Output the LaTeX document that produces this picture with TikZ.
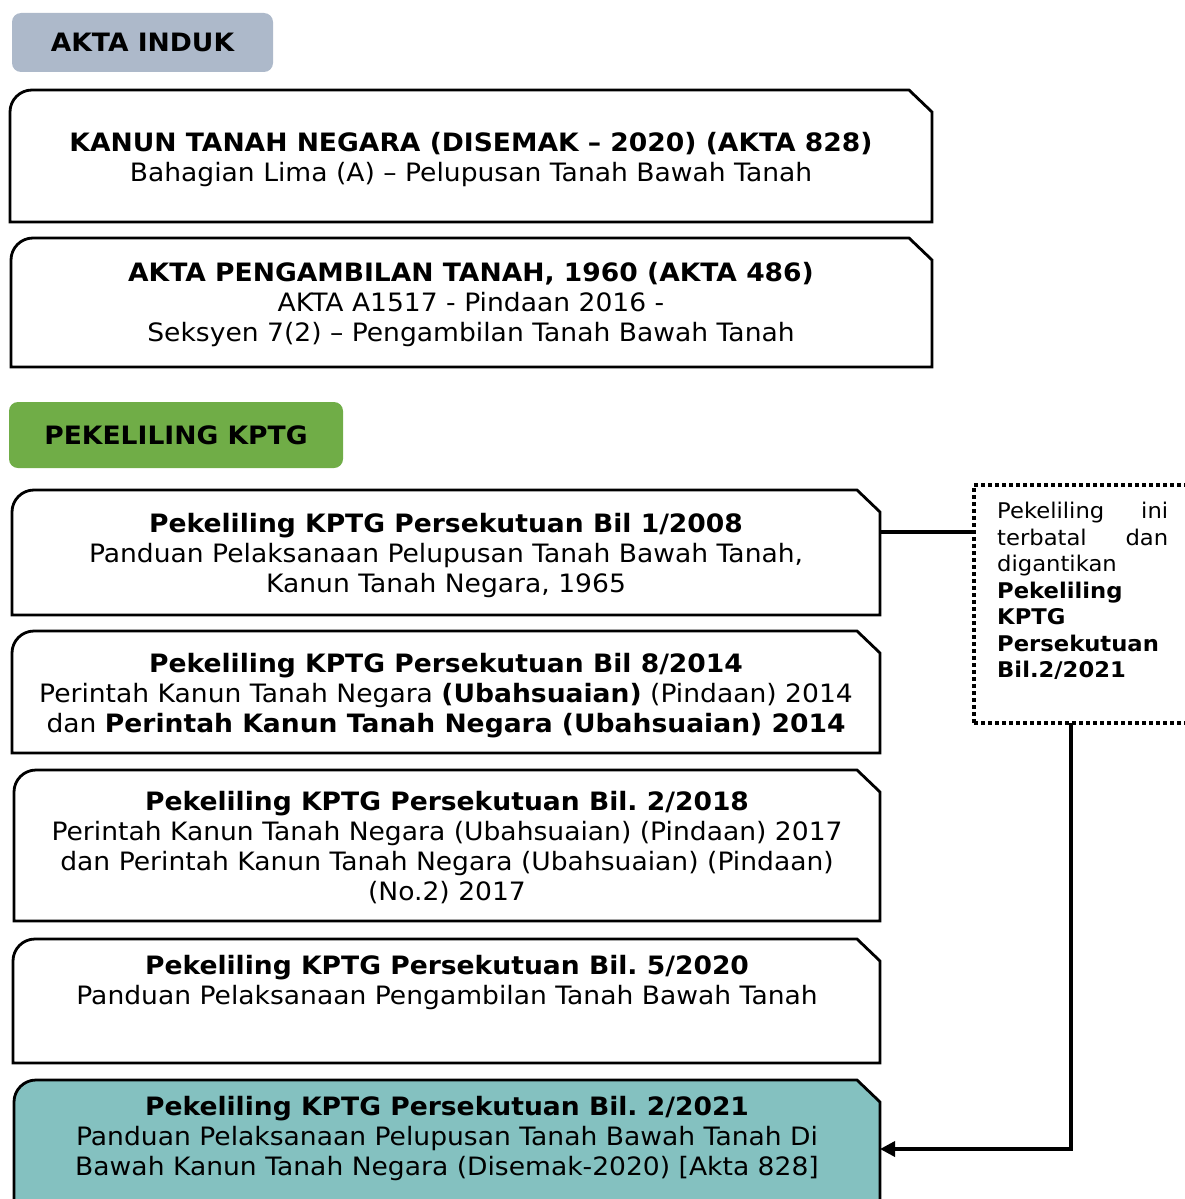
\documentclass[tikz,border=0pt]{standalone}
\usepackage{fontspec}
\setmainfont{DejaVu Sans}[FakeStretch=1.05]
\usetikzlibrary{arrows.meta}
\definecolor{hdrblue}{HTML}{ADB9CA}
\definecolor{hdrgreen}{HTML}{70AD47}
\definecolor{tealfill}{HTML}{84C1C0}
\frenchspacing
\newcommand\drawdocbox[2]{%
  \draw[boxline,fill=#2] (#1.south west) -- ([yshift=-22pt]#1.north west)
    arc[start angle=180,end angle=90,radius=22pt]
    -- ([xshift=-23pt]#1.north east) -- ([yshift=-22pt]#1.north east)
    -- (#1.south east) -- cycle;}
\begin{document}
\begin{tikzpicture}[x=1pt,y=-1pt,
  boxline/.style={line width=2.8pt,line join=miter},
  area/.style={rectangle,inner sep=0pt,outer sep=0pt},
  txt/.style={align=center,inner sep=0pt,anchor=north,font=\fontsize{25.3}{30}\selectfont\frenchspacing,execute at begin node=\strut},
  hdr/.style={rounded corners=9pt,inner sep=0pt,font=\fontsize{25.3}{30}\selectfont\bfseries},
  conn/.style={line width=3.5pt}]
\useasboundingbox (0,0) rectangle (1184,1199);

% header labels
\node[hdr,fill=hdrblue,minimum width=261pt,minimum height=59pt] (h1) at (142.5,42.5) {AKTA INDUK};
\node[hdr,fill=hdrgreen,minimum width=334pt,minimum height=66pt] (h2) at (176,435) {PEKELILING KPTG};

% document boxes
\node[area,minimum width=922pt,minimum height=132pt] (b1) at (471,156) {};
\node[area,minimum width=921pt,minimum height=129pt] (b2) at (471.5,302.5) {};
\node[area,minimum width=868pt,minimum height=125pt] (b3) at (446,552.5) {};
\node[area,minimum width=868pt,minimum height=122pt] (b4) at (446,692) {};
\node[area,minimum width=866pt,minimum height=151pt] (b5) at (447,845.5) {};
\node[area,minimum width=867pt,minimum height=124pt] (b6) at (446.5,1001) {};
\node[area,minimum width=866pt,minimum height=135pt] (b7) at (447,1147.5) {};
\drawdocbox{b1}{white}
\drawdocbox{b2}{white}
\drawdocbox{b3}{white}
\drawdocbox{b4}{white}
\drawdocbox{b5}{white}
\drawdocbox{b6}{white}
\drawdocbox{b7}{tealfill}

\node[txt] (t1) at (471,132) {\textbf{KANUN TANAH NEGARA (DISEMAK – 2020) (AKTA 828)}\\Bahagian Lima (A) – Pelupusan Tanah Bawah Tanah};
\node[txt] (t2) at (471,262) {\textbf{AKTA PENGAMBILAN TANAH, 1960 (AKTA 486)}\\AKTA A1517 - Pindaan 2016 -\\Seksyen 7(2) – Pengambilan Tanah Bawah Tanah};
\node[txt] (t3) at (446,513) {\textbf{Pekeliling KPTG Persekutuan Bil 1/2008}\\Panduan Pelaksanaan Pelupusan Tanah Bawah Tanah,\\Kanun Tanah Negara, 1965};
\node[txt] (t4) at (446,653) {\textbf{Pekeliling KPTG Persekutuan Bil 8/2014}\\Perintah Kanun Tanah Negara \textbf{(Ubahsuaian)} (Pindaan) 2014\\dan \textbf{Perintah Kanun Tanah Negara (Ubahsuaian) 2014}};
\node[txt] (t5) at (447,791) {\textbf{Pekeliling KPTG Persekutuan Bil. 2/2018}\\Perintah Kanun Tanah Negara (Ubahsuaian) (Pindaan) 2017\\dan Perintah Kanun Tanah Negara (Ubahsuaian) (Pindaan)\\(No.2) 2017};
\node[txt] (t6) at (447,955) {\textbf{Pekeliling KPTG Persekutuan Bil. 5/2020}\\Panduan Pelaksanaan Pengambilan Tanah Bawah Tanah};
\node[txt] (t7) at (447,1096) {\textbf{Pekeliling KPTG Persekutuan Bil. 2/2021}\\Panduan Pelaksanaan Pelupusan Tanah Bawah Tanah Di\\Bawah Kanun Tanah Negara (Disemak-2020) [Akta 828]};

% note box
\node[area,minimum width=226pt,minimum height=238pt,draw,line width=3.5pt,dash pattern=on 4pt off 3pt] (note) at (1087,604) {};
\node[inner sep=0pt,anchor=north west,text width=171pt,align=left,font=\fontsize{21.6}{26.5}\selectfont,execute at begin node=\strut] (nt) at (997,500) {Pekeliling\hfill ini\\terbatal\hfill dan\\digantikan\\\textbf{Pekeliling}\\\textbf{KPTG}\\\textbf{Persekutuan}\\\textbf{Bil.2/2021}};

% connectors
\coordinate (c1) at ([yshift=20.5pt]b3.east);
\draw[conn] (c1) -- (c1 -| note.west);
\coordinate (c2) at ([xshift=-16pt]note.south);
\coordinate (c3) at ([yshift=-1.5pt]b7.east);
\draw[conn,-{Triangle[length=15pt,width=15pt]}] (c2) |- (c3);
\end{tikzpicture}
\end{document}
